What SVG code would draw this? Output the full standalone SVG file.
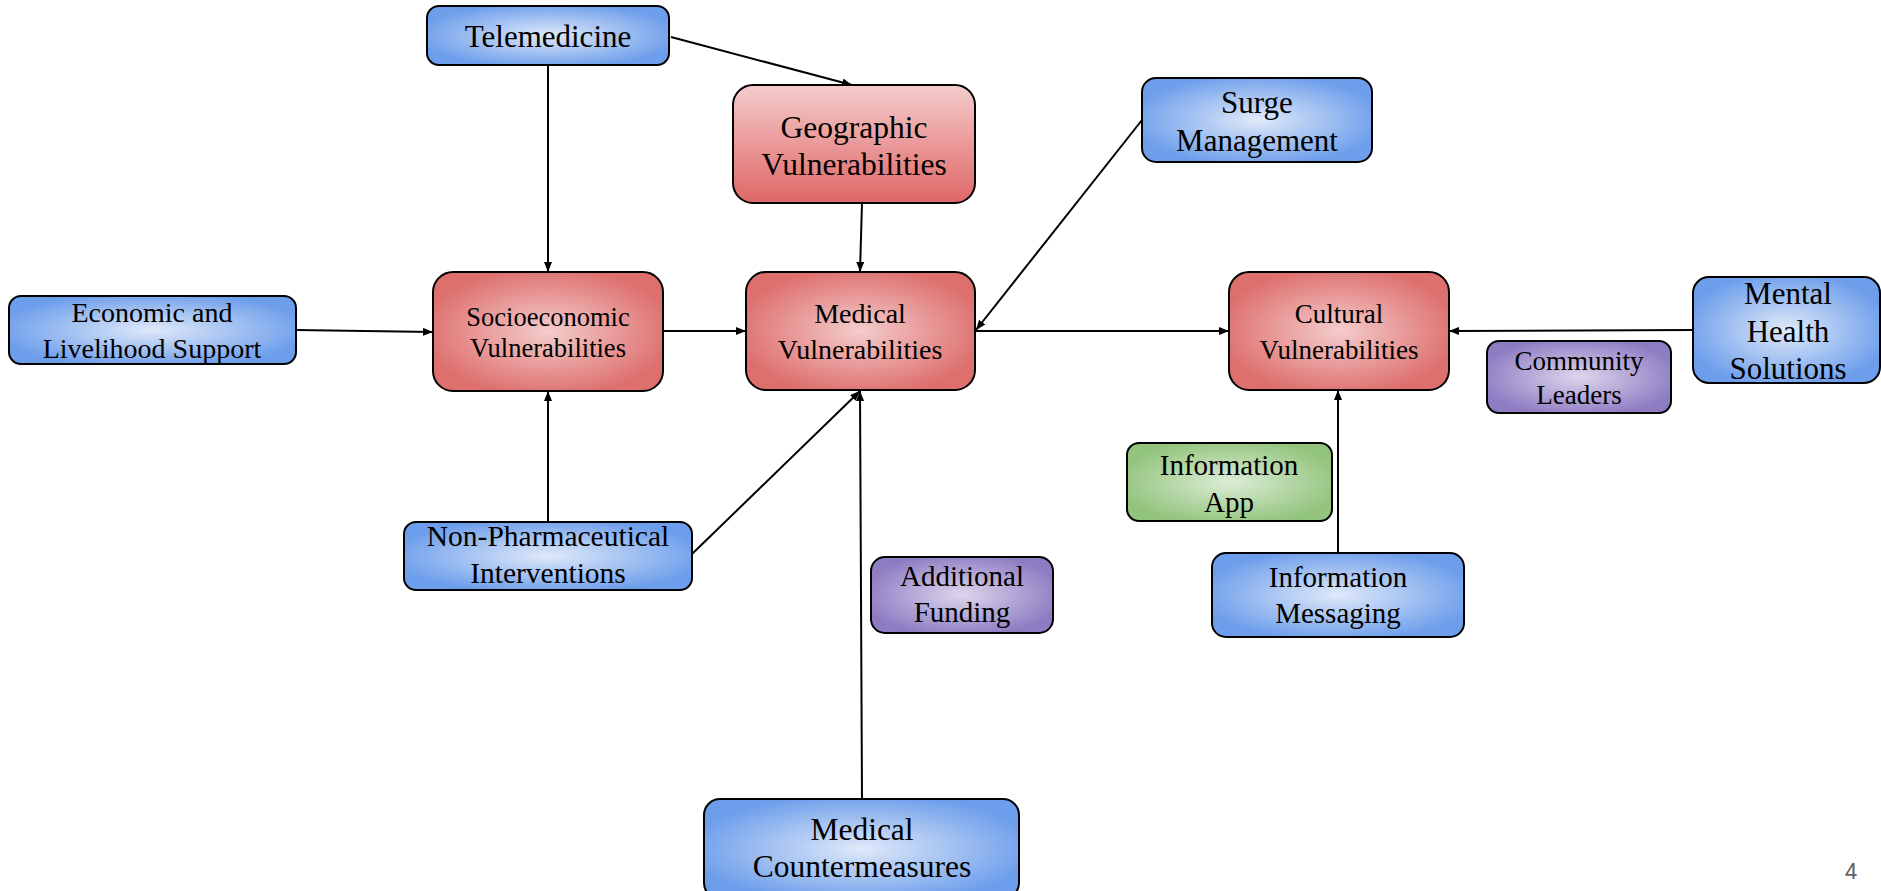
<svg xmlns="http://www.w3.org/2000/svg" width="1881" height="891" viewBox="0 0 1881 891">
<style>
.box{stroke:#000;stroke-width:2}
.blue{fill:url(#gBlue)}
.red{fill:url(#gRed)}
.redlin{fill:url(#gRedLin)}
.purple{fill:url(#gPurple)}
.green{fill:url(#gGreen)}
text{font-family:"Liberation Serif","Times New Roman",serif;fill:#000;text-anchor:middle}
.conn path{stroke:#000;stroke-width:2;fill:none;marker-end:url(#arr)}
.pg{font-family:"Roboto","Liberation Sans",sans-serif;fill:#5f6368;font-size:22px}
</style>
<defs>
<radialGradient id="gBlue" cx="0.5" cy="0.5" r="0.55">
<stop offset="0" stop-color="#e0e9f9"/>
<stop offset="1" stop-color="#6d9eeb"/>
</radialGradient>
<radialGradient id="gRed" cx="0.5" cy="0.5" r="0.55">
<stop offset="0" stop-color="#f4cccc"/>
<stop offset="1" stop-color="#dd6f6d"/>
</radialGradient>
<linearGradient id="gRedLin" x1="0" y1="0" x2="0" y2="1">
<stop offset="0" stop-color="#f4cccc"/>
<stop offset="1" stop-color="#e06666"/>
</linearGradient>
<radialGradient id="gPurple" cx="0.5" cy="0.5" r="0.55">
<stop offset="0" stop-color="#ddd6ec"/>
<stop offset="1" stop-color="#8e7cc3"/>
</radialGradient>
<radialGradient id="gGreen" cx="0.5" cy="0.5" r="0.55">
<stop offset="0" stop-color="#dcedd6"/>
<stop offset="1" stop-color="#93c47d"/>
</radialGradient>
<marker id="arr" viewBox="0 0 10 8" markerWidth="10" markerHeight="8" refX="10" refY="4" orient="auto" markerUnits="userSpaceOnUse">
<path d="M0,0 L10,4 L0,8 z" fill="#000"/>
</marker>
</defs>

<g id="connectors" class="conn">
<path d="M548,65 L548,272"/>
<path d="M671,37 L852,85"/>
<path d="M862,203 L860,272"/>
<path d="M296,330 L433,332"/>
<path d="M663,331 L746,331"/>
<path d="M1142,120 L976,330"/>
<path d="M975,331 L1229,331"/>
<path d="M1693,330 L1449,331"/>
<path d="M548,522 L548,391"/>
<path d="M692,554 L860,391"/>
<path d="M862,799 L860,391"/>
<path d="M1338,553 L1338,390"/>
</g>

<g id="telemedicine">
<rect class="box blue" x="427" y="6" width="242" height="59" rx="12"/>
<text x="548" y="47" font-size="31">Telemedicine</text>
</g>
<g id="geographic">
<rect class="box redlin" x="733" y="85" width="242" height="118" rx="20"/>
<text x="854" y="138" font-size="31.5">Geographic</text>
<text x="854" y="175" font-size="31.5">Vulnerabilities</text>
</g>
<g id="economic">
<rect class="box blue" x="9" y="296" width="287" height="68" rx="12"/>
<text x="152" y="322" font-size="28">Economic and</text>
<text x="152" y="358" font-size="28">Livelihood Support</text>
</g>
<g id="socioeconomic">
<rect class="box red" x="433" y="272" width="230" height="119" rx="20"/>
<text x="548" y="326" font-size="26.5">Socioeconomic</text>
<text x="548" y="357" font-size="26.5">Vulnerabilities</text>
</g>
<g id="medical">
<rect class="box red" x="746" y="272" width="229" height="118" rx="20"/>
<text x="860" y="323" font-size="28">Medical</text>
<text x="860" y="359" font-size="28">Vulnerabilities</text>
</g>
<g id="cultural">
<rect class="box red" x="1229" y="272" width="220" height="118" rx="20"/>
<text x="1339" y="323" font-size="27">Cultural</text>
<text x="1339" y="359" font-size="27">Vulnerabilities</text>
</g>
<g id="surge">
<rect class="box blue" x="1142" y="78" width="230" height="84" rx="14"/>
<text x="1257" y="113" font-size="31">Surge</text>
<text x="1257" y="151" font-size="31">Management</text>
</g>
<g id="mental">
<rect class="box blue" x="1693" y="277" width="187" height="106" rx="16"/>
<text x="1788" y="304" font-size="31">Mental</text>
<text x="1788" y="342" font-size="31">Health</text>
<text x="1788" y="379" font-size="31">Solutions</text>
</g>
<g id="community">
<rect class="box purple" x="1487" y="341" width="184" height="72" rx="12"/>
<text x="1579" y="370" font-size="27">Community</text>
<text x="1579" y="404" font-size="27">Leaders</text>
</g>
<g id="infoapp">
<rect class="box green" x="1127" y="443" width="205" height="78" rx="12"/>
<text x="1229" y="475" font-size="29">Information</text>
<text x="1229" y="512" font-size="29">App</text>
</g>
<g id="infomessaging">
<rect class="box blue" x="1212" y="553" width="252" height="84" rx="14"/>
<text x="1338" y="587" font-size="29">Information</text>
<text x="1338" y="623" font-size="29">Messaging</text>
</g>
<g id="nonpharm">
<rect class="box blue" x="404" y="522" width="288" height="68" rx="12"/>
<text x="548" y="546" font-size="29.5">Non-Pharmaceutical</text>
<text x="548" y="583" font-size="29.5">Interventions</text>
</g>
<g id="funding">
<rect class="box purple" x="871" y="557" width="182" height="76" rx="14"/>
<text x="962" y="586" font-size="29">Additional</text>
<text x="962" y="622" font-size="29">Funding</text>
</g>
<g id="countermeasures">
<rect class="box blue" x="704" y="799" width="315" height="100" rx="16"/>
<text x="862" y="840" font-size="31.5">Medical</text>
<text x="862" y="877" font-size="31.5">Countermeasures</text>
</g>
<text class="pg" x="1851" y="879">4</text>
</svg>
